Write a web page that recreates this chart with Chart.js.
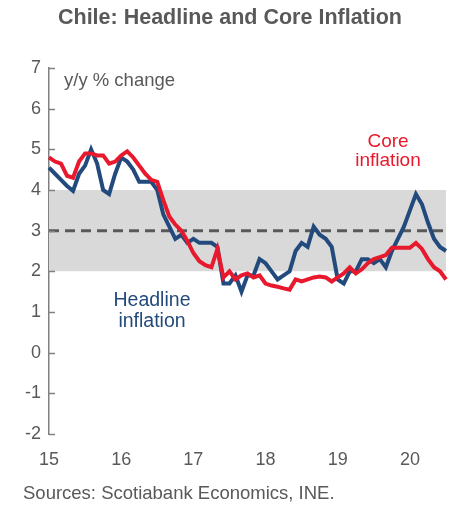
<!DOCTYPE html>
<html>
<head>
<meta charset="utf-8">
<script src="https://cdn.jsdelivr.net/npm/chart.js@4"></script>
<style>
  body { margin: 0; background: #fff; font-family: "Liberation Sans", Arial, sans-serif; }
  #wrap { position: relative; width: 456px; height: 508px; }
  #chart { position: absolute; left: 0; top: 0; }
  .txt { position: absolute; white-space: nowrap; }
  #title { left: 0; width: 460px; top: 5px; text-align: center; font-weight: bold; font-size: 21.5px; color: #595959; }
  #unit { left: 64px; top: 69px; font-size: 18.5px; color: #595959; }
  #core { left: 348px; top: 131px; width: 80px; text-align: center; font-size: 19px; color: #e8192c; line-height: 19px; }
  #head { left: 102px; top: 289px; width: 100px; text-align: center; font-size: 19.5px; color: #234a7c; line-height: 21px; }
  #src { left: 23px; top: 482px; font-size: 18.5px; color: #595959; }
</style>
</head>
<body>
<div id="wrap">
  <canvas id="chart" width="456" height="508"></canvas>
  <div class="txt" id="title">Chile: Headline and Core Inflation</div>
  <div class="txt" id="unit">y/y % change</div>
  <div class="txt" id="core">Core<br>inflation</div>
  <div class="txt" id="head">Headline<br>inflation</div>
  <div class="txt" id="src">Sources: Scotiabank Economics, INE.</div>
</div>
<script>
// 2015년 1월 ~ 2020년 7월 월별 데이터
const months = [];
for (let y = 15; y <= 20; y++) {
  for (let m = 1; m <= 12; m++) {
    if (y === 20 && m > 7) break;
    months.push(y + '-' + String(m).padStart(2, '0'));
  }
}

const headline = [
  4.55, 4.4, 4.25, 4.1, 3.98, 4.4, 4.6, 5.0, 4.65, 4.0, 3.9, 4.4,
  4.8, 4.7, 4.5, 4.2, 4.2, 4.2, 4.0, 3.4, 3.1, 2.8, 2.9, 2.7,
  2.8, 2.7, 2.7, 2.7, 2.6, 1.7, 1.7, 1.9, 1.5, 1.9, 1.9, 2.3,
  2.2, 2.0, 1.8, 1.9, 2.0, 2.5, 2.7, 2.6, 3.1, 2.9, 2.8, 2.6,
  1.8, 1.7, 2.0, 2.0, 2.3, 2.3, 2.2, 2.3, 2.1, 2.5, 2.8, 3.1,
  3.5, 3.9, 3.65, 3.2, 2.8, 2.6, 2.5
];

const core = [
  4.8, 4.7, 4.65, 4.35, 4.3, 4.7, 4.9, 4.9, 4.85, 4.85, 4.65, 4.7,
  4.85, 4.95, 4.8, 4.6, 4.4, 4.25, 4.2, 3.75, 3.35, 3.15, 3.0, 2.75,
  2.45, 2.25, 2.15, 2.1, 2.55, 1.85, 2.0, 1.8, 1.9, 1.95, 1.85, 1.9,
  1.7, 1.65, 1.62, 1.58, 1.55, 1.8, 1.75, 1.8, 1.85, 1.87, 1.85, 1.75,
  1.85, 1.95, 2.1, 1.95, 2.05, 2.2, 2.3, 2.35, 2.4, 2.58, 2.58, 2.58,
  2.58, 2.7, 2.55, 2.3, 2.1, 2.0, 1.8
];

const yearLabels = ['15', '16', '17', '18', '19', '20'];
const yTicks = [-2, -1, 0, 1, 2, 3, 4, 5, 6, 7];
const target = 3;
const bandLow = 2;
const bandHigh = 4;

const BLUE = '#234a7c';
const RED = '#e8192c';
const GREY_TXT = '#595959';

// y축 눈금을 안쪽(오른쪽)으로 그리는 플러그인
const innerTicks = {
  id: 'innerTicks',
  afterDatasetsDraw(chart) {
    const { ctx, scales: { y } } = chart;
    ctx.save();
    ctx.strokeStyle = '#808080';
    ctx.lineWidth = 1.5;
    y.ticks.forEach((t) => {
      const py = Math.round(y.getPixelForValue(t.value)) + 0.5;
      ctx.beginPath();
      ctx.moveTo(y.right, py);
      ctx.lineTo(y.right + 6, py);
      ctx.stroke();
    });
    ctx.restore();
  }
};

new Chart(document.getElementById('chart'), {
  type: 'line',
  data: {
    labels: months,
    datasets: [
      {
        label: 'bandHigh',
        data: months.map(() => bandHigh),
        borderWidth: 0,
        pointRadius: 0,
        backgroundColor: '#d9d9d9',
        fill: '+1',
        order: 5
      },
      {
        label: 'bandLow',
        data: months.map(() => bandLow),
        borderWidth: 0,
        pointRadius: 0,
        fill: false,
        order: 5
      },
      {
        label: 'target',
        data: months.map(() => target),
        borderColor: '#595959',
        borderWidth: 3,
        borderDash: [10, 6],
        pointRadius: 0,
        fill: false,
        order: 4
      },
      {
        label: 'Headline inflation',
        data: headline,
        borderColor: BLUE,
        borderWidth: 4,
        pointRadius: 0,
        tension: 0,
        fill: false,
        order: 2
      },
      {
        label: 'Core inflation',
        data: core,
        borderColor: RED,
        borderWidth: 4,
        pointRadius: 0,
        tension: 0,
        fill: false,
        order: 1
      }
    ]
  },
  options: {
    responsive: false,
    animation: false,
    layout: { padding: { top: 68, right: 10, left: 0, bottom: 0 } },
    plugins: { legend: { display: false }, tooltip: { enabled: false } },
    scales: {
      x: {
        type: 'category',
        offset: false,
        grid: { display: false, drawTicks: false },
        border: { display: false },
        afterFit: (s) => { s.height = 74; },
        ticks: {
          autoSkip: false,
          maxRotation: 0,
          padding: 15,
          color: GREY_TXT,
          font: { family: '"Liberation Sans", Arial', size: 18 },
          callback: (v, i) => (i % 12 === 0 ? yearLabels[i / 12] : null)
        }
      },
      y: {
        min: -2,
        max: 7,
        afterFit: (s) => { s.width = 49; },
        afterBuildTicks: (s) => { s.ticks = yTicks.map((v) => ({ value: v })); },
        grid: { display: false, drawTicks: false },
        border: { display: true, color: '#808080', width: 1.5 },
        ticks: {
          padding: 8,
          color: GREY_TXT,
          font: { family: '"Liberation Sans", Arial', size: 18 }
        }
      }
    }
  },
  plugins: [innerTicks]
});
</script>
</body>
</html>
